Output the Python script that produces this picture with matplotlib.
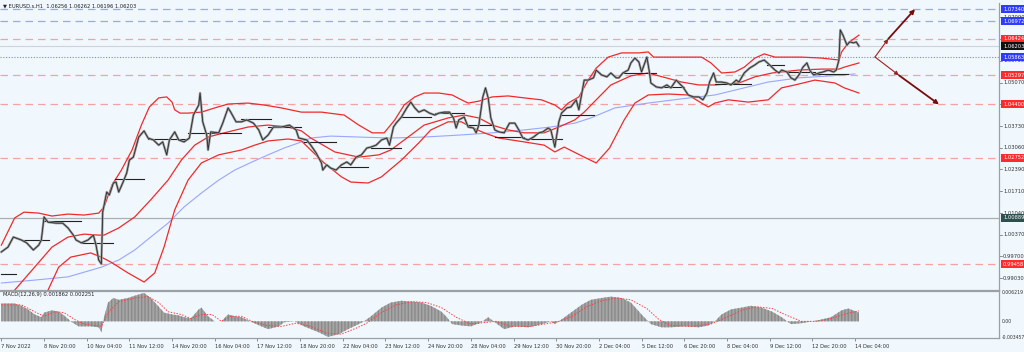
import matplotlib
matplotlib.use('Agg')
import matplotlib.pyplot as plt
from matplotlib.transforms import blended_transform_factory

# hourly chart, x = hours since 7 Nov 12:00 (weekends skipped)
price_path = [
    (0, 0.9984), (5, 0.9999), (9, 1.0030), (11, 1.0027), (15, 1.0021), (19, 1.0012),
    (24, 0.9990), (28, 1.0005), (30, 1.0021), (32, 1.0092), (35, 1.0076), (41, 1.0073),
    (46, 1.0073), (50, 1.0058), (54, 1.0036), (56, 1.0021), (60, 1.0012), (65, 1.0021),
    (69, 1.0036), (71, 1.0005), (73, 0.9959), (75, 0.9947), (76, 1.0107), (79, 1.0169),
    (81, 1.0160), (84, 1.0197), (86, 1.0200), (88, 1.0169), (91, 1.0197), (94, 1.0228),
    (96, 1.0268), (99, 1.0277), (101, 1.0308), (103, 1.0339), (107, 1.0358), (110, 1.0336),
    (114, 1.0330), (118, 1.0314), (121, 1.0324), (124, 1.0284), (126, 1.0330), (130, 1.0355),
    (133, 1.0330), (137, 1.0324), (141, 1.0336), (144, 1.0407), (148, 1.0438), (149, 1.0475),
    (151, 1.0386), (154, 1.0345), (155, 1.0299), (157, 1.0355), (163, 1.0352), (166, 1.0382),
    (170, 1.0429), (172, 1.0416), (176, 1.0386), (180, 1.0386), (184, 1.0392), (189, 1.0382),
    (193, 1.0361), (196, 1.0330), (200, 1.0345), (204, 1.0370), (210, 1.0370), (216, 1.0376),
    (221, 1.0361), (223, 1.0336), (229, 1.0330), (232, 1.0314), (236, 1.0290), (240, 1.0259),
    (241, 1.0237), (244, 1.0253), (247, 1.0243), (251, 1.0237), (255, 1.0253), (259, 1.0262),
    (262, 1.0253), (266, 1.0277), (270, 1.0284), (274, 1.0305), (277, 1.0308), (281, 1.0314),
    (285, 1.0330), (289, 1.0336), (291, 1.0314), (294, 1.0370), (296, 1.0382), (300, 1.0401),
    (304, 1.0429), (307, 1.0447), (310, 1.0429), (313, 1.0416), (317, 1.0423), (321, 1.0413),
    (325, 1.0407), (328, 1.0413), (332, 1.0416), (336, 1.0416), (339, 1.0398), (341, 1.0367),
    (343, 1.0392), (347, 1.0401), (350, 1.0370), (354, 1.0367), (356, 1.0352), (358, 1.0376),
    (361, 1.0463), (363, 1.0491), (365, 1.0460), (367, 1.0398), (370, 1.0361), (373, 1.0355),
    (377, 1.0352), (381, 1.0382), (385, 1.0382), (388, 1.0361), (391, 1.0336), (395, 1.0330),
    (399, 1.0339), (403, 1.0352), (406, 1.0355), (410, 1.0367), (412, 1.0361), (415, 1.0308),
    (418, 1.0386), (420, 1.0413), (424, 1.0429), (427, 1.0432), (431, 1.0454), (433, 1.0423),
    (435, 1.0469), (437, 1.0515), (440, 1.0515), (444, 1.0522), (446, 1.0546), (450, 1.0531),
    (454, 1.0525), (457, 1.0537), (461, 1.0522), (463, 1.0522), (466, 1.0537), (470, 1.0546),
    (472, 1.0568), (475, 1.0583), (478, 1.0571), (480, 1.0540), (484, 1.0586), (486, 1.0537),
    (487, 1.0506), (491, 1.0494), (495, 1.0491), (499, 1.0500), (502, 1.0491), (506, 1.0515),
    (508, 1.0506), (511, 1.0494), (515, 1.0469), (519, 1.0463), (523, 1.0463), (526, 1.0454),
    (529, 1.0475), (531, 1.0509), (534, 1.0537), (536, 1.0509), (540, 1.0509), (544, 1.0506),
    (547, 1.0500), (551, 1.0515), (553, 1.0509), (557, 1.0537), (561, 1.0552), (565, 1.0562),
    (568, 1.0571), (572, 1.0577), (576, 1.0562), (580, 1.0546), (583, 1.0537), (585, 1.0546),
    (589, 1.0540), (592, 1.0522), (595, 1.0515), (598, 1.0531), (601, 1.0555), (604, 1.0568),
    (606, 1.0546), (609, 1.0531), (613, 1.0537), (616, 1.0540), (620, 1.0546), (624, 1.0540),
    (626, 1.0546), (628, 1.0577), (629, 1.0670), (631, 1.0654), (634, 1.0623), (636, 1.0633),
    (639, 1.0630), (641, 1.0633), (643, 1.0620),
]

upper_band = [
    (0, 1.0005), (10, 1.0089), (17, 1.0107), (28, 1.0104), (38, 1.0095), (50, 1.0101),
    (62, 1.0098), (73, 1.0104), (77, 1.0123), (83, 1.0191), (90, 1.0237), (98, 1.0299),
    (105, 1.0376), (111, 1.0432), (118, 1.0460), (124, 1.0463), (128, 1.0447), (130, 1.0423),
    (134, 1.0413), (140, 1.0413), (150, 1.0416), (160, 1.0429), (170, 1.0441), (185, 1.0444),
    (197, 1.0438), (210, 1.0429), (225, 1.0416), (240, 1.0416), (257, 1.0407), (268, 1.0376),
    (278, 1.0352), (287, 1.0352), (295, 1.0392), (302, 1.0438), (310, 1.0463), (317, 1.0475),
    (328, 1.0475), (338, 1.0469), (345, 1.0454), (350, 1.0444), (358, 1.0450), (368, 1.0463),
    (380, 1.0466), (392, 1.0460), (405, 1.0454), (415, 1.0438), (420, 1.0423), (425, 1.0444),
    (433, 1.0463), (440, 1.0515), (446, 1.0552), (455, 1.0586), (465, 1.0599), (478, 1.0599),
    (485, 1.0602), (489, 1.0586), (500, 1.0586), (515, 1.0586), (525, 1.0586), (532, 1.0568),
    (540, 1.0537), (550, 1.0540), (557, 1.0555), (565, 1.0583), (572, 1.0596), (580, 1.0586),
    (600, 1.0586), (615, 1.0583), (628, 1.0577), (630, 1.0602), (635, 1.0630), (643, 1.0654),
]

middle_band = [
    (0, 0.9820), (10, 0.9866), (38, 0.9999), (50, 1.0030), (62, 1.0039), (73, 1.0036),
    (77, 1.0036), (88, 1.0058), (100, 1.0092), (112, 1.0145), (125, 1.0206), (135, 1.0268),
    (145, 1.0314), (155, 1.0339), (170, 1.0355), (185, 1.0370), (200, 1.0376), (215, 1.0370),
    (225, 1.0358), (232, 1.0336), (250, 1.0293), (268, 1.0277), (283, 1.0284), (292, 1.0299),
    (305, 1.0339), (317, 1.0376), (335, 1.0398), (347, 1.0407), (358, 1.0398), (368, 1.0376),
    (380, 1.0361), (392, 1.0352), (407, 1.0352), (418, 1.0370), (430, 1.0392), (437, 1.0416),
    (446, 1.0454), (457, 1.0500), (472, 1.0528), (485, 1.0537), (493, 1.0528), (510, 1.0509),
    (523, 1.0500), (535, 1.0500), (553, 1.0506), (565, 1.0525), (578, 1.0537), (598, 1.0546),
    (615, 1.0549), (628, 1.0549), (632, 1.0555), (643, 1.0568),
]

lower_band = [
    (28, 0.9774), (35, 0.9866), (43, 0.9937), (52, 0.9968), (67, 0.9981), (75, 0.9968),
    (82, 0.9953), (95, 0.9919), (107, 0.9891), (115, 0.9919), (122, 0.9999), (130, 1.0114),
    (140, 1.0206), (150, 1.0259), (163, 1.0284), (180, 1.0299), (190, 1.0314), (200, 1.0327),
    (215, 1.0333), (225, 1.0327), (232, 1.0299), (242, 1.0259), (255, 1.0216), (262, 1.0200),
    (275, 1.0197), (285, 1.0216), (300, 1.0268), (313, 1.0321), (322, 1.0361), (335, 1.0386),
    (345, 1.0386), (352, 1.0370), (362, 1.0352), (373, 1.0336), (392, 1.0324), (407, 1.0314),
    (415, 1.0293), (422, 1.0308), (437, 1.0277), (446, 1.0259), (456, 1.0305), (467, 1.0392),
    (475, 1.0444), (485, 1.0469), (500, 1.0472), (515, 1.0469), (525, 1.0444), (530, 1.0432),
    (535, 1.0444), (545, 1.0454), (560, 1.0447), (575, 1.0454), (585, 1.0491), (595, 1.0500),
    (610, 1.0515), (625, 1.0506), (632, 1.0491), (643, 1.0475),
]

slow_ma = [
    (0, 0.9888), (25, 0.9897), (50, 0.9907), (75, 0.9937), (88, 0.9959), (100, 0.9990),
    (112, 1.0030), (125, 1.0073), (137, 1.0123), (150, 1.0166), (163, 1.0206), (175, 1.0237),
    (188, 1.0262), (200, 1.0284), (212, 1.0305), (225, 1.0324), (232, 1.0336), (247, 1.0342),
    (268, 1.0339), (292, 1.0336), (317, 1.0339), (343, 1.0345), (368, 1.0352), (392, 1.0361),
    (412, 1.0370), (430, 1.0382), (442, 1.0398), (460, 1.0429), (485, 1.0444), (510, 1.0457),
    (535, 1.0469), (575, 1.0509), (598, 1.0522), (622, 1.0528), (640, 1.0534),
]

# daily pivot segments: (from hour, to hour, price)
pivots = [
    (0, 11, 0.9916), (16, 36, 1.0021), (32, 60, 1.0080), (60, 84, 1.0012), (85, 107, 1.0209),
    (110, 140, 1.0333), (140, 180, 1.0352), (180, 202, 1.0395), (200, 225, 1.0370),
    (227, 251, 1.0324), (253, 275, 1.0246), (277, 300, 1.0305), (300, 322, 1.0401),
    (325, 347, 1.0413), (350, 367, 1.0376), (370, 392, 1.0339), (397, 420, 1.0333),
    (420, 444, 1.0407), (467, 491, 1.0537), (491, 512, 1.0494), (535, 562, 1.0503),
    (574, 587, 1.0562), (590, 610, 1.0540), (608, 635, 1.0534),
]

macd_main = [
    (0, 0.0039), (10, 0.0039), (15, 0.0034), (20, 0.0026), (25, 0.0015), (30, 0.0009),
    (32, 0.0019), (38, 0.0024), (43, 0.0021), (47, 0.0013), (52, 0.0000), (58, -0.0011),
    (62, -0.0011), (67, -0.0011), (73, -0.0013), (75, -0.0024), (77, 0.0009), (80, 0.0041),
    (84, 0.0051), (88, 0.0047), (95, 0.0051), (100, 0.0056), (107, 0.0062), (112, 0.0051),
    (118, 0.0032), (122, 0.0019), (128, 0.0015), (133, 0.0013), (137, 0.0009), (142, 0.0006),
    (148, 0.0026), (150, 0.0030), (155, 0.0011), (160, 0.0000), (165, 0.0000), (170, 0.0015),
    (175, 0.0011), (180, 0.0009), (185, 0.0002), (188, -0.0002), (195, -0.0011), (200, -0.0017),
    (208, -0.0011), (212, -0.0002), (220, 0.0000), (227, -0.0011), (238, -0.0024),
    (245, -0.0034), (253, -0.0028), (260, -0.0017), (268, -0.0006), (272, 0.0000),
    (278, 0.0013), (285, 0.0030), (292, 0.0041), (300, 0.0045), (308, 0.0043), (315, 0.0041),
    (322, 0.0034), (330, 0.0021), (334, 0.0009), (338, -0.0006), (345, -0.0009),
    (352, -0.0011), (360, -0.0002), (365, 0.0009), (370, -0.0002), (377, -0.0017),
    (385, -0.0011), (395, -0.0013), (405, -0.0006), (412, 0.0000), (415, -0.0006),
    (420, 0.0004), (428, 0.0021), (435, 0.0036), (442, 0.0047), (450, 0.0051), (457, 0.0054),
    (465, 0.0051), (472, 0.0041), (480, 0.0015), (487, -0.0006), (495, -0.0013),
    (502, -0.0013), (512, -0.0011), (523, -0.0013), (530, -0.0009), (535, 0.0000),
    (540, 0.0015), (547, 0.0026), (555, 0.0030), (562, 0.0034), (570, 0.0030), (578, 0.0021),
    (585, 0.0009), (592, -0.0006), (600, -0.0004), (608, 0.0000), (615, 0.0004),
    (622, 0.0009), (630, 0.0024), (635, 0.0028), (643, 0.0019),
]

macd_signal = [
    (0, 0.0036), (15, 0.0036), (25, 0.0021), (32, 0.0011), (40, 0.0021), (47, 0.0019),
    (55, 0.0004), (62, -0.0006), (70, -0.0009), (75, -0.0011), (80, 0.0019), (88, 0.0043),
    (100, 0.0051), (110, 0.0054), (118, 0.0041), (125, 0.0021), (135, 0.0015), (142, 0.0006),
    (150, 0.0015), (158, 0.0015), (165, 0.0000), (172, 0.0011), (180, 0.0011), (188, 0.0000),
    (199, -0.0009), (210, -0.0011), (221, -0.0004), (232, -0.0011), (244, -0.0026),
    (255, -0.0028), (266, -0.0015), (274, -0.0004), (285, 0.0019), (296, 0.0036),
    (308, 0.0043), (319, 0.0041), (330, 0.0030), (341, 0.0009), (352, -0.0006),
    (364, -0.0002), (371, 0.0000), (382, -0.0011), (397, -0.0011), (411, -0.0004),
    (418, 0.0000), (428, 0.0011), (439, 0.0032), (450, 0.0045), (461, 0.0051), (472, 0.0047),
    (484, 0.0028), (493, 0.0004), (502, -0.0009), (517, -0.0011), (532, -0.0006),
    (544, 0.0009), (555, 0.0024), (566, 0.0032), (578, 0.0028), (589, 0.0013), (600, 0.0000),
    (611, 0.0000), (622, 0.0006), (634, 0.0017), (643, 0.0023),
]

blue_levels = [1.07340, 1.06972]
red_levels = [1.06424, 1.05297, 1.04400, 1.02752, 0.99458]
entry_level = 1.05863
support_level = 1.00889
bid_price = 1.06203

axis_prices = [1.07090, 1.06420, 1.05750, 1.05070, 1.04400, 1.03730, 1.03060, 1.02390,
               1.01710, 1.01040, 1.00370, 0.99700, 0.99030]
macd_scale = [(0.006219, '0.006219'), (0.0, '0.00'), (-0.003457, '-0.003457')]
time_labels = ['7 Nov 2022', '8 Nov 20:00', '10 Nov 04:00', '11 Nov 12:00', '14 Nov 20:00',
               '16 Nov 04:00', '17 Nov 12:00', '18 Nov 20:00', '22 Nov 04:00', '23 Nov 12:00',
               '24 Nov 20:00', '28 Nov 04:00', '29 Nov 12:00', '30 Nov 20:00', '2 Dec 04:00',
               '5 Dec 12:00', '6 Dec 20:00', '8 Dec 04:00', '9 Dec 12:00', '12 Dec 20:00',
               '14 Dec 04:00']
label_step = 32

arrow_up = [(655, 1.05863), (665, 1.06424), (685, 1.07340)]
arrow_down = [(655, 1.05863), (673, 1.05297), (703, 1.04400)]

BG = '#f0f7fd'
FS = 3.7
W, H = 1024, 352
fig = plt.figure(figsize=(W / 100, H / 100), dpi=100, facecolor=BG)
ax = fig.add_axes([0, 1 - 290 / H, 999 / W, 287 / H], facecolor=BG)
ax2 = fig.add_axes([0, 1 - 338 / H, 999 / W, 47 / H], facecolor=BG)

def xs(pts):
    return [p[0] for p in pts]

def ys(pts):
    return [p[1] for p in pts]

# levels
for lv in blue_levels:
    ax.axhline(lv, color='#9fa6f0', lw=0.9, ls=(0, (6, 4)), zorder=1)
for lv in red_levels:
    ax.axhline(lv, color='#f4a3a3', lw=0.9, ls=(0, (6, 4)), zorder=1)
ax.axhline(entry_level, color='#7f86ee', lw=0.8, ls=(0, (1, 1.5)), zorder=1)
ax.axhline(support_level, color='#a8b0b4', lw=0.9, zorder=1)
ax.axhline(bid_price, color='#d0d4d8', lw=0.8, zorder=1)

# indicators
ax.plot(xs(slow_ma), ys(slow_ma), color='#9aa6ff', lw=0.8, zorder=2)
for band in (upper_band, middle_band, lower_band):
    ax.plot(xs(band), ys(band), color='#f02a2a', lw=0.9, zorder=3)

for h0, h1, p in pivots:
    ax.plot([h0, h1], [p, p], color='#222222', lw=0.8, zorder=4)

# price
ax.plot(xs(price_path), ys(price_path), color='#9a9a9a', lw=1.7, zorder=5)
ax.plot(xs(price_path), ys(price_path), color='#2a2a2a', lw=0.6, zorder=6)

# target arrows
for path in (arrow_up, arrow_down):
    ax.annotate('', xy=path[1], xytext=path[0],
                arrowprops=dict(arrowstyle='-|>', color='#a02020', lw=0.8,
                                mutation_scale=6, shrinkA=0, shrinkB=0), zorder=7)
    ax.annotate('', xy=path[2], xytext=path[1],
                arrowprops=dict(arrowstyle='-|>', color='#7a0c0c', lw=1.3,
                                mutation_scale=6, shrinkA=0, shrinkB=0), zorder=7)

ax.set_xlim(-1, 748)
ax.set_ylim(0.98664, 1.07532)
ax.set_xticks([])
ax.set_yticks([])
for s in ('top', 'left'):
    ax.spines[s].set_visible(False)
for s in ('right', 'bottom'):
    ax.spines[s].set_color('#9aa0a6')
    ax.spines[s].set_linewidth(0.9)

# price scale on the right
tr = blended_transform_factory(ax.transAxes, ax.transData)
for p in axis_prices:
    ax.text(1.004, p, '%.5f' % p, transform=tr, fontsize=FS, color='#333333',
            va='center', ha='left', clip_on=False)
    ax.plot([1.0, 1.003], [p, p], transform=tr, color='#666666', lw=0.5, clip_on=False)

boxes = [(blue_levels[0], '#2f3cff'), (blue_levels[1], '#2f3cff'), (entry_level, '#2f3cff'),
         (red_levels[0], '#ff2a2a'), (red_levels[1], '#ff2a2a'), (red_levels[2], '#ff2a2a'),
         (red_levels[3], '#ff2a2a'), (red_levels[4], '#ff2a2a'),
         (support_level, '#2f4f4f'), (bid_price, '#111111')]
for p, c in boxes:
    ax.text(1.004, p, '%.5f' % p, transform=tr, fontsize=FS, color='white', va='center',
            ha='left', clip_on=False, zorder=10,
            bbox=dict(boxstyle='square,pad=0.3', fc=c, ec='none'))

fig.text(3 / W, 1 - 6 / H, '\u25bc EURUSD.s,H1  1.06256 1.06262 1.06196 1.06203',
         fontsize=FS, color='#222222', va='center', ha='left')

# MACD panel
ax2.fill_between(xs(macd_main), ys(macd_main), 0, facecolor='#a6a6a6', edgecolor='#8a8a8a',
                 hatch='|||||', lw=0, zorder=2)
ax2.plot(xs(macd_signal), ys(macd_signal), color='#ff4040', lw=0.7, ls=(0, (1.5, 1.5)), zorder=3)
ax2.set_xlim(-1, 748)
ax2.set_ylim(-0.00364, 0.00663)
ax2.set_yticks([])
ax2.spines['left'].set_visible(False)
for s in ('right', 'bottom', 'top'):
    ax2.spines[s].set_color('#9aa0a6')
    ax2.spines[s].set_linewidth(0.9)
tr2 = blended_transform_factory(ax2.transAxes, ax2.transData)
for v, t in macd_scale:
    ax2.text(1.003, v, t, transform=tr2, fontsize=3.3, color='#333333', va='center',
             ha='left', clip_on=False)
ax2.text(3 / 999, 0.0058, 'MACD(12,26,9) 0.001862 0.002251', fontsize=FS, color='#222222',
         va='center', ha='left', transform=tr2)

ticks = [i * label_step for i in range(len(time_labels))]
ax2.set_xticks(ticks)
ax2.set_xticklabels(time_labels, fontsize=FS, color='#333333', ha='left')
ax2.tick_params(axis='x', length=2, width=0.5, color='#666666', pad=2)

fig.savefig('out.png', dpi=100, facecolor=BG)
